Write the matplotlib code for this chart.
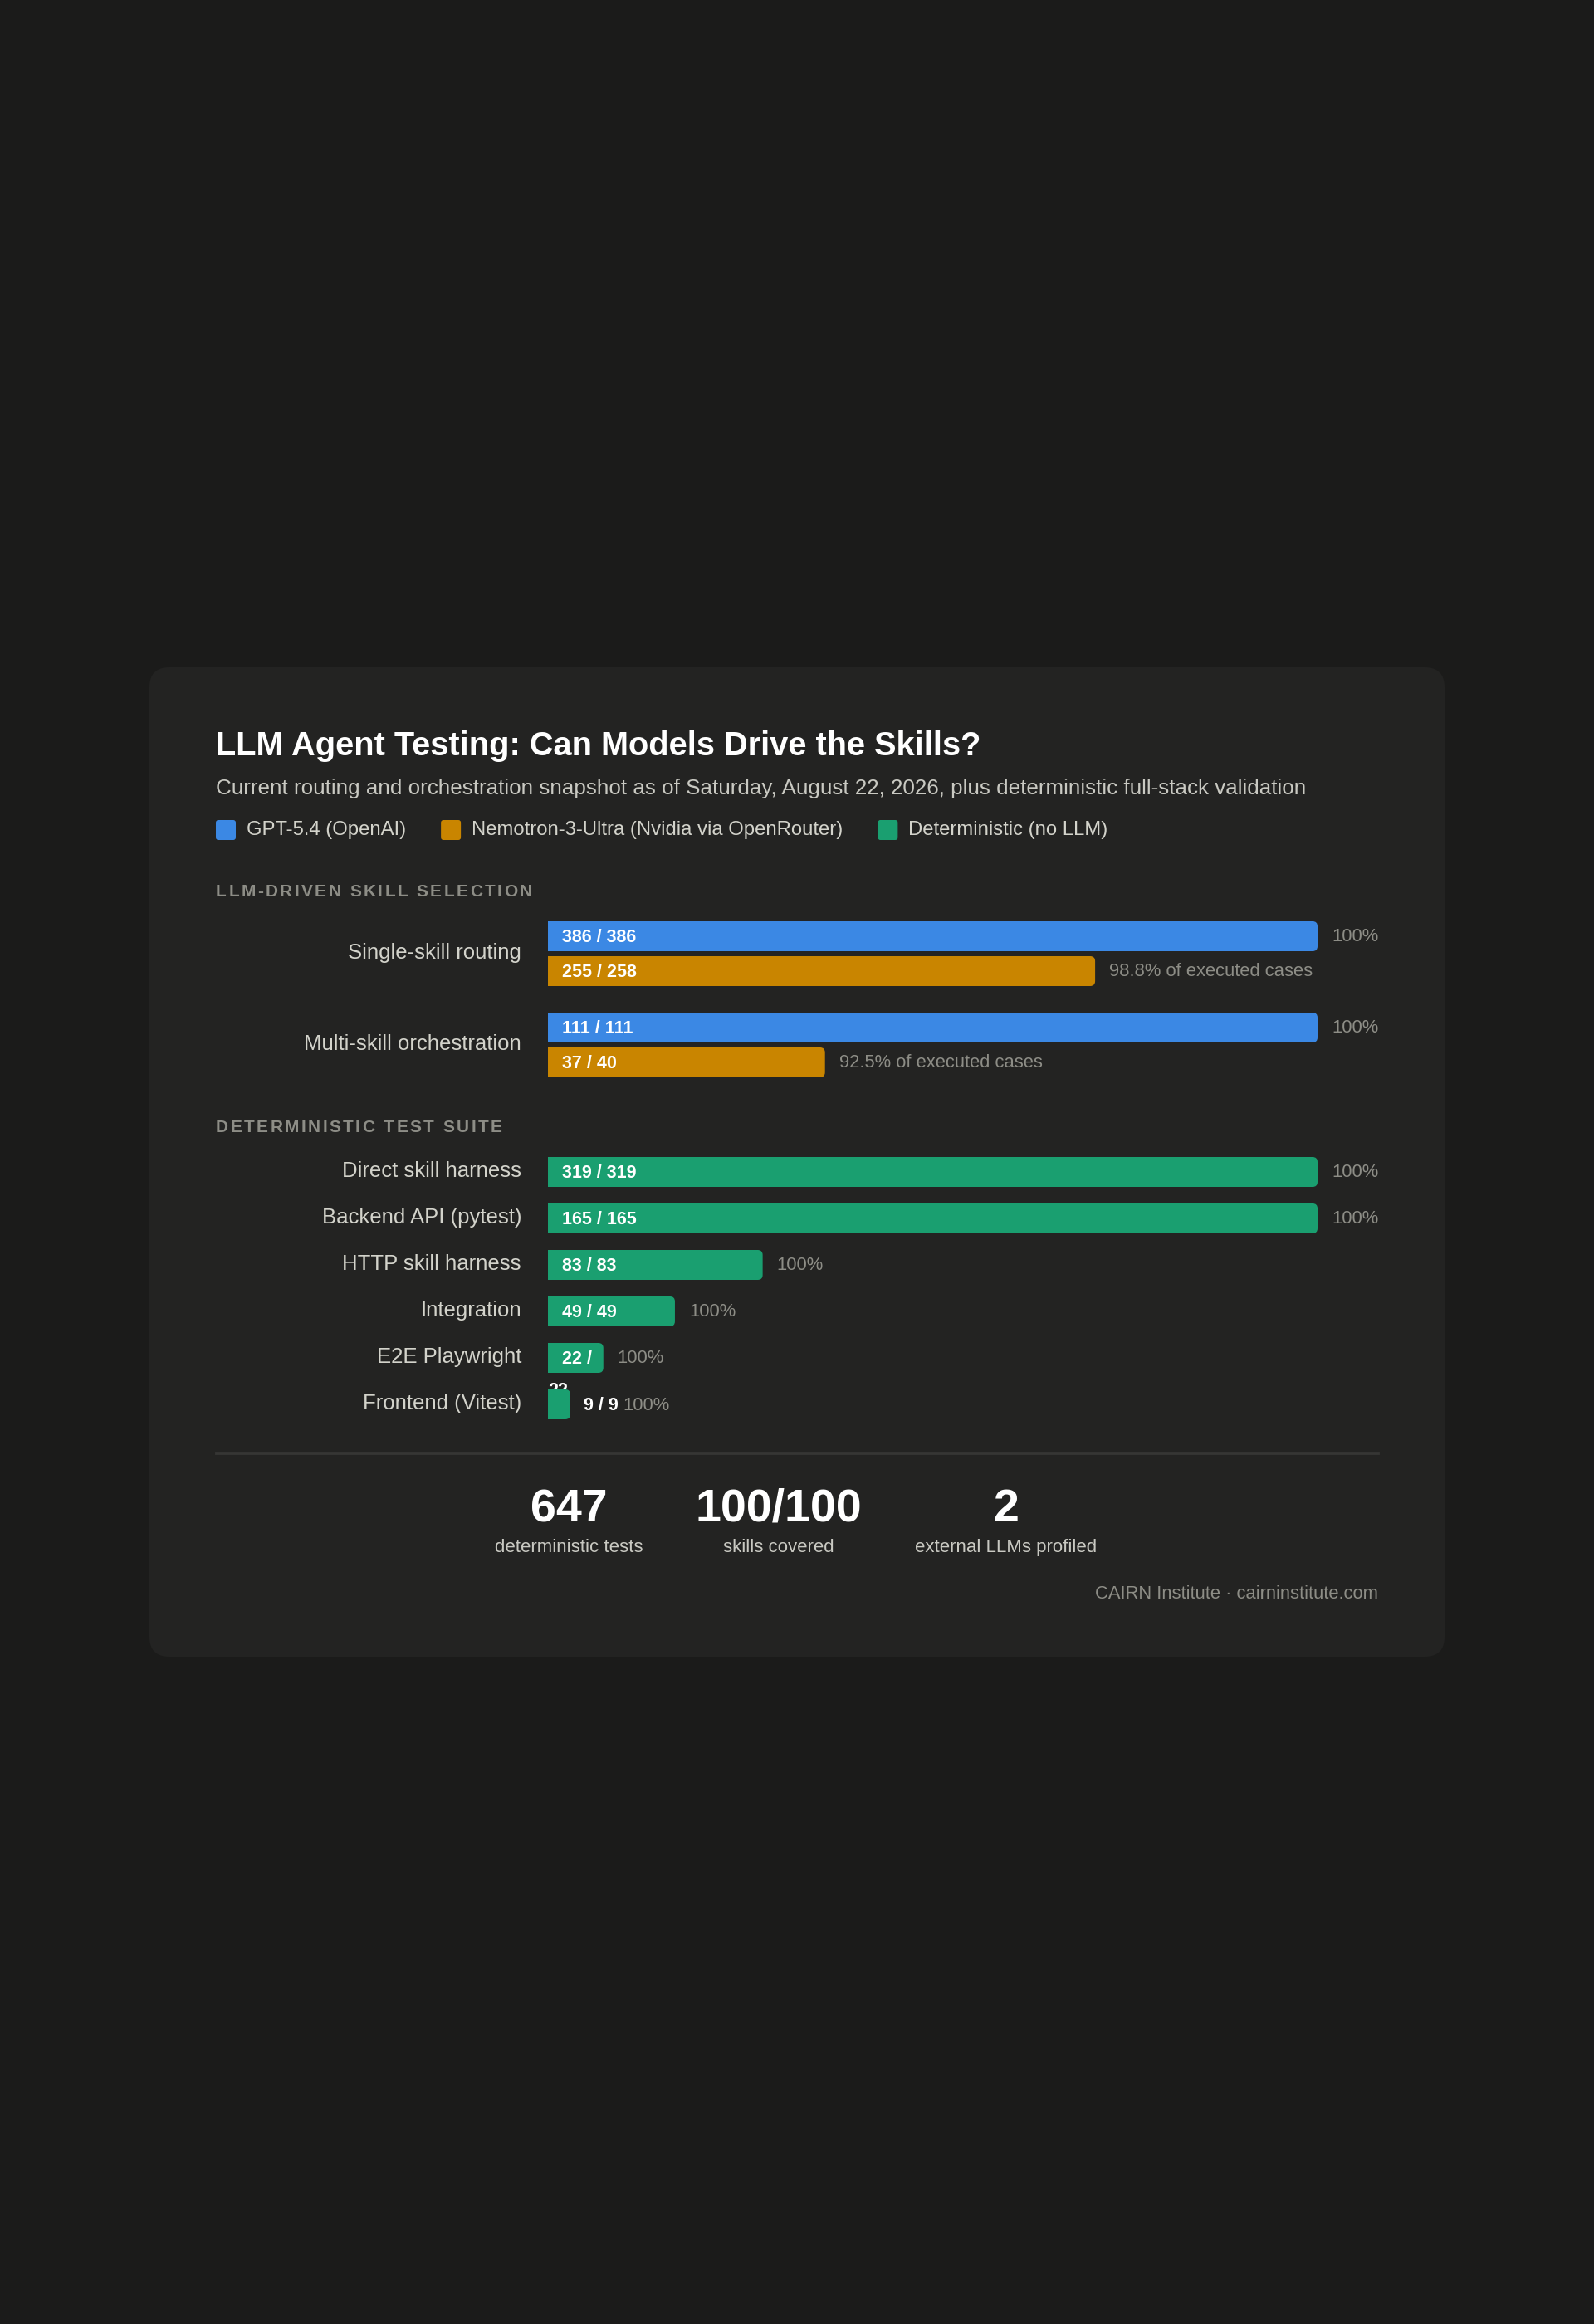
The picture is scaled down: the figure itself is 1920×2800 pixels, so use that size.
import matplotlib
matplotlib.use("Agg")
import matplotlib.pyplot as plt
from matplotlib.patches import FancyBboxPatch
from matplotlib.font_manager import FontProperties

plt.rcParams["font.family"] = ["Liberation Sans", "DejaVu Sans"]

# --- chart content ---
TITLE = "LLM Agent Testing: Can Models Drive the Skills?"
SUBTITLE = ("Current routing and orchestration snapshot as of Saturday, August 22, 2026, "
            "plus deterministic full-stack validation")
legend_labels = ["GPT-5.4 (OpenAI)", "Nemotron-3-Ultra (Nvidia via OpenRouter)", "Deterministic (no LLM)"]
SECTION_LLM = "LLM-DRIVEN SKILL SELECTION"
SECTION_DET = "DETERMINISTIC TEST SUITE"

llm_tasks = ["Single-skill routing", "Multi-skill orchestration"]
gpt_passed = [386, 111]
gpt_total = [386, 111]
gpt_bar = [1.0, 1.0]          # bar length, fraction of the track
nem_passed = [255, 37]
nem_total = [258, 40]
nem_bar = [0.711, 0.360]

det_suites = ["Direct skill harness", "Backend API (pytest)", "HTTP skill harness",
              "Integration", "E2E Playwright", "Frontend (Vitest)"]
det_passed = [319, 165, 83, 49, 22, 9]
det_total = [319, 165, 83, 49, 22, 9]
det_bar = [1.0, 1.0, 0.279, 0.165, 0.072, 0.029]

stat_values = ["647", "100/100", "2"]
stat_labels = ["deterministic tests", "skills covered", "external LLMs profiled"]
FOOTER = "CAIRN Institute \u00b7 cairninstitute.com"

# --- style ---
W, H, DPI = 1920, 2800, 100
BG = "#1b1b1a"
CARD = "#232322"
BLUE = "#3b88e4"
ORANGE = "#c98500"
GREEN = "#1a9f70"
TXT = "#d3d3cb"
MUTED = "#8d8d86"
WHITE = "#ffffff"
TRACK_X0, TRACK_PX = 660, 927
BAR_H = 36
VAL_FS = 15.5
PCT_FS = 15.8

fig = plt.figure(figsize=(W / DPI, H / DPI), dpi=DPI, facecolor=BG)
ax = fig.add_axes([0, 0, 1, 1])
ax.set_xlim(0, W)
ax.set_ylim(H, 0)
ax.axis("off")
renderer = fig.canvas.get_renderer()

# card
ax.add_patch(FancyBboxPatch((180, 804), 1560, 1192, boxstyle="round,pad=0,rounding_size=24",
                            fc=CARD, ec="none", zorder=0))

ax.text(260, 910, TITLE, fontsize=28.6, fontweight="bold", color=WHITE, va="baseline")
ax.text(260, 957, SUBTITLE, fontsize=18.7, color="#c9c9c2", va="baseline")

# legend
lx = 260
for lab, col in zip(legend_labels, [BLUE, ORANGE, GREEN]):
    ax.add_patch(FancyBboxPatch((lx, 988), 24, 24, boxstyle="round,pad=0,rounding_size=3",
                                fc=col, ec="none"))
    t = ax.text(lx + 37, 1000, lab, fontsize=17.2, color=TXT, va="center")
    lx = lx + 37 + t.get_window_extent(renderer).width + 42


def spaced_text(x, y, s, gap, **kw):
    fp = FontProperties(family=["Liberation Sans"], weight=kw.get("fontweight", "normal"),
                        size=kw.get("fontsize", 12))
    base = renderer.get_text_width_height_descent("l", fp, ismath=False)[0]
    for i, ch in enumerate(s):
        adv = renderer.get_text_width_height_descent(s[:i] + "l", fp, ismath=False)[0] - base
        ax.text(x + adv + i * gap, y, ch, va="baseline", **kw)


spaced_text(260, 1080, SECTION_LLM, 2.45, fontsize=15, fontweight="bold", color=MUTED)
spaced_text(260, 1364, SECTION_DET, 2.45, fontsize=15, fontweight="bold", color=MUTED)

# bar track axes: x = fraction of track, y = pixel rows
bx = fig.add_axes([TRACK_X0 / W, 1 - 1720 / H, TRACK_PX / W, (1720 - 1080) / H])
bx.set_xlim(0, 1)
bx.set_ylim(1720, 1080)
bx.axis("off")
bx.patch.set_alpha(0)


def draw_bar(y, frac, color, value_txt, pct_txt):
    r = 6 / TRACK_PX
    bx.barh(y, max(frac - r, 0), height=BAR_H, color=color, linewidth=0, zorder=2)
    bx.add_patch(FancyBboxPatch((0, y - BAR_H / 2), frac, BAR_H,
                                boxstyle=f"round,pad=0,rounding_size={r}",
                                mutation_aspect=TRACK_PX, fc=color, ec="none", zorder=2))
    bar_px = frac * TRACK_PX
    if bar_px < 40:
        vt = bx.annotate(value_txt, xy=(frac, y), xytext=(16, -7), textcoords="offset pixels",
                         fontsize=VAL_FS, fontweight="bold", color=WHITE, va="baseline", zorder=3)
        bx.annotate(pct_txt, xy=(1, 0), xycoords=vt, xytext=(6, 0), textcoords="offset pixels",
                    fontsize=PCT_FS, color=MUTED, va="bottom", zorder=3)
        return
    vt = bx.annotate(value_txt, xy=(0, y), xytext=(17, -7), textcoords="offset pixels",
                     fontsize=VAL_FS, fontweight="bold", color=WHITE, va="baseline", zorder=3)
    if vt.get_window_extent(renderer).width > bar_px - 17:
        # label wraps inside a narrow bar; second line spills below
        first, second = value_txt.rsplit(" ", 1)
        vt.set_text(first)
        bx.annotate(second, xy=(0, y), xytext=(0, -45), textcoords="offset pixels",
                    fontsize=VAL_FS, fontweight="bold", color=WHITE, va="baseline", zorder=1)
    bx.annotate(pct_txt, xy=(frac, y), xytext=(17, -6), textcoords="offset pixels",
                fontsize=PCT_FS, color=MUTED, va="baseline", zorder=3)


def row_label(y, s):
    bx.annotate(s, xy=(0, y), xytext=(-32, -6), textcoords="offset pixels",
                fontsize=18.5, color=TXT, ha="right", va="baseline")


for i, task in enumerate(llm_tasks):
    y = 1128 + i * 110
    draw_bar(y, gpt_bar[i], BLUE, f"{gpt_passed[i]} / {gpt_total[i]}",
             f"{100 * gpt_passed[i] / gpt_total[i]:.0f}%")
    draw_bar(y + 42, nem_bar[i], ORANGE, f"{nem_passed[i]} / {nem_total[i]}",
             f"{100 * nem_passed[i] / nem_total[i]:.1f}% of executed cases")
    row_label(y + 21, task)

for i, suite in enumerate(det_suites):
    y = 1412 + i * 56
    draw_bar(y, det_bar[i], GREEN, f"{det_passed[i]} / {det_total[i]}",
             f"{100 * det_passed[i] / det_total[i]:.0f}%")
    row_label(y, suite)

# divider + stats
ax.plot([260, 1660], [1751, 1751], color="#363634", linewidth=2)
for cx, val, lab in zip([685, 938, 1212], stat_values, stat_labels):
    ax.text(cx, 1833, val, fontsize=40, fontweight="bold", color=WHITE, ha="center", va="baseline")
    ax.text(cx, 1870, lab, fontsize=16, color="#c9c9c2", ha="center", va="baseline")

ax.text(1660, 1926, FOOTER, fontsize=15.8, color=MUTED, ha="right", va="baseline")

fig.savefig("out.png", dpi=DPI, facecolor=BG)
